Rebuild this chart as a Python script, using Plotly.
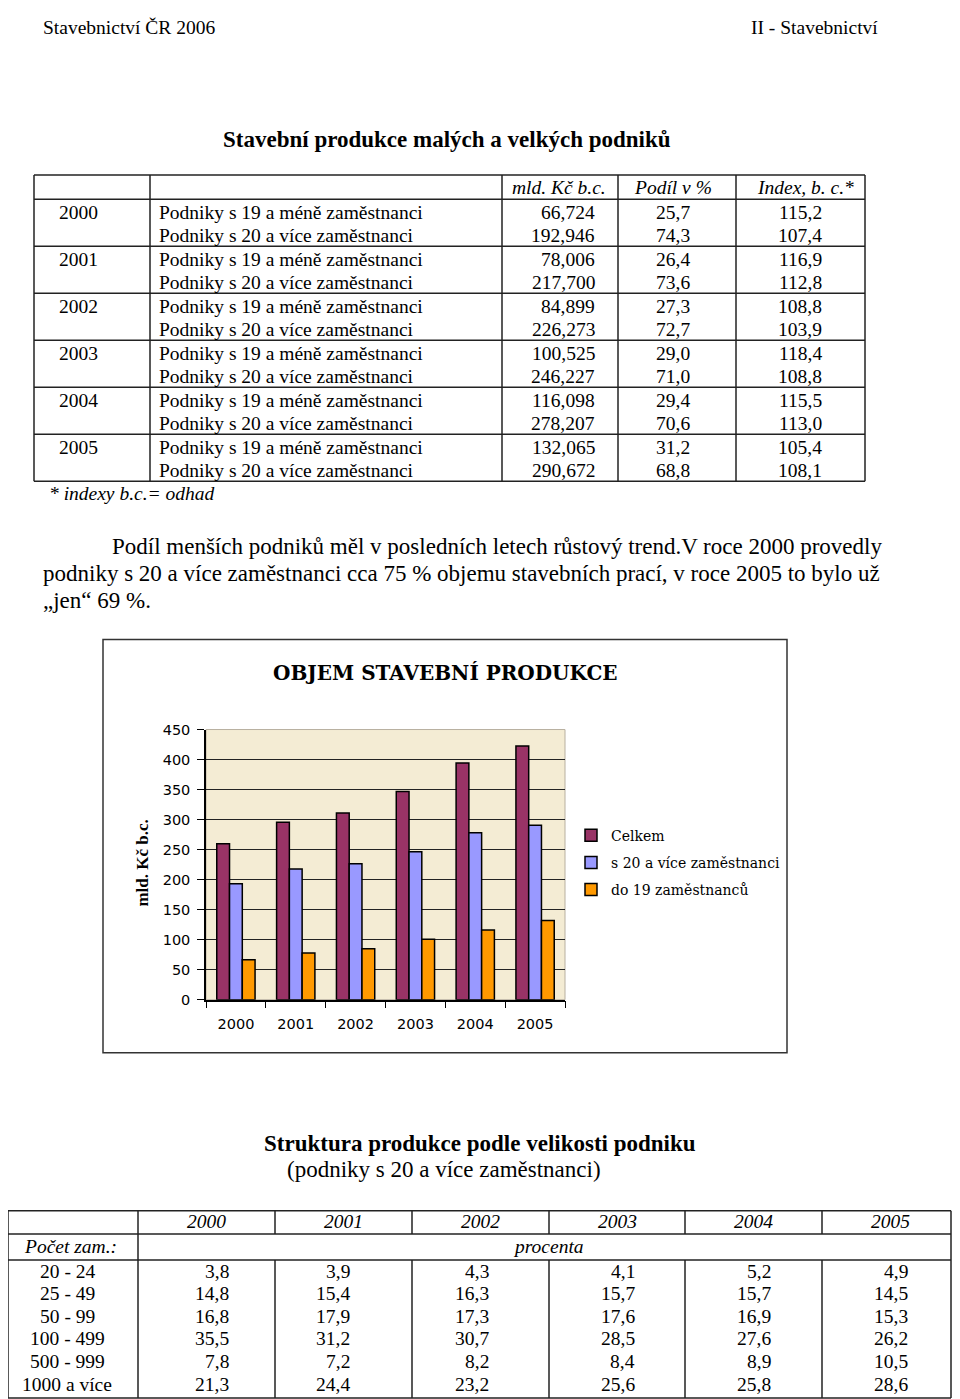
import plotly.graph_objects as go

W, H = 960, 1399
SERIF = "Liberation Serif"

# data - table 1 (mld. Kč b.c., podíl v %, index b.c.)
years = ["2000", "2001", "2002", "2003", "2004", "2005"]
small_mld = [66.724, 78.006, 84.899, 100.525, 116.098, 132.065]
large_mld = [192.946, 217.700, 226.273, 246.227, 278.207, 290.672]
total_mld = [259.670, 295.706, 311.172, 346.752, 394.305, 422.737]
small_share = [25.7, 26.4, 27.3, 29.0, 29.4, 31.2]
large_share = [74.3, 73.6, 72.7, 71.0, 70.6, 68.8]
small_index = [115.2, 116.9, 108.8, 118.4, 115.5, 105.4]
large_index = [107.4, 112.8, 103.9, 108.8, 113.0, 108.1]
row_labels = ["Podniky s 19 a méně zaměstnanci", "Podniky s 20 a více zaměstnanci"]

# data - table 2 (struktura v %)
size_classes = ["20 - 24", "25 - 49", "50 - 99", "100 - 499", "500 - 999", "1000 a více"]
struct_2000 = [3.8, 14.8, 16.8, 35.5, 7.8, 21.3]
struct_2001 = [3.9, 15.4, 17.9, 31.2, 7.2, 24.4]
struct_2002 = [4.3, 16.3, 17.3, 30.7, 8.2, 23.2]
struct_2003 = [4.1, 15.7, 17.6, 28.5, 8.4, 25.6]
struct_2004 = [5.2, 15.7, 16.9, 27.6, 8.9, 25.8]
struct_2005 = [4.9, 14.5, 15.3, 26.2, 10.5, 28.6]
structure = [struct_2000, struct_2001, struct_2002, struct_2003, struct_2004, struct_2005]

# page pixel -> paper coordinates (page offset of the figure)
OX, OY, PH = 8, 16, 1382


def px(x):
    return max(0.0, (x - OX) / W)


def py(y):
    return 1 - (y - OY) / PH


def cz(v, d):
    return f"{v:.{d}f}".replace(".", ",")


annotations = []
shapes = []


def txt(x, y, s, size=19.5, anchor="left", family=SERIF, angle=0):
    annotations.append(dict(x=px(x), y=py(y), xref="paper", yref="paper", text=s,
                            showarrow=False, xanchor=anchor, yanchor="middle",
                            textangle=angle,
                            font=dict(family=family, size=size, color="black")))


def line(x0, y0, x1, y1, w=1.5, color="#222"):
    shapes.append(dict(type="line", xref="paper", yref="paper",
                       x0=px(x0), y0=py(y0), x1=px(x1), y1=py(y1),
                       line=dict(color=color, width=w)))


# page header
txt(41, 27, "Stavebnictví ČR 2006")
txt(880, 27, "II - Stavebnictví", anchor="right")
txt(447, 139, "<b>Stavební produkce malých a velkých podniků</b>", 23, "center")

# table 1 grid
t1_rows = [175, 199, 246, 293, 340, 387, 434, 481]
t1_cols = [34, 150, 502, 618, 736, 865]
for yy in t1_rows:
    line(34, yy, 865, yy)
for xx in t1_cols:
    line(xx, 175, xx, 481)

txt(559, 187, "<i>mld. Kč b.c.</i>", anchor="center")
txt(673, 187, "<i>Podíl v %</i>", anchor="center")
txt(805, 187, "<i>Index, b. c.*</i>", anchor="center")

for i, yr in enumerate(years):
    top = t1_rows[i + 1]
    y1, y2 = top + 13, top + 36
    txt(57, y1, yr)
    txt(157, y1, row_labels[0])
    txt(157, y2, row_labels[1])
    txt(597, y1, cz(small_mld[i], 3), anchor="right")
    txt(597, y2, cz(large_mld[i], 3), anchor="right")
    txt(673, y1, cz(small_share[i], 1), anchor="center")
    txt(673, y2, cz(large_share[i], 1), anchor="center")
    txt(800, y1, cz(small_index[i], 1), anchor="center")
    txt(800, y2, cz(large_index[i], 1), anchor="center")

txt(47, 493, "<i>* indexy b.c.= odhad</i>")

# paragraph
txt(110, 546, "Podíl menších podniků měl v posledních letech růstový trend.V roce 2000 provedly", 23)
txt(41, 573, "podniky s 20 a více zaměstnanci cca 75 % objemu stavebních prací, v roce 2005 to bylo už", 23)
txt(41, 600, "„jen“ 69 %.", 23)

# chart frame and titles
shapes.append(dict(type="rect", xref="paper", yref="paper",
                   x0=px(103), y0=py(1052), x1=px(787), y1=py(639),
                   line=dict(color="#333", width=1.5)))
txt(445, 673, "<b>OBJEM STAVEBNÍ PRODUKCE</b>", 20, "center", "DejaVu Serif")
txt(143, 863, "<b>mld. Kč b.c.</b>", 17, "center", SERIF, -90)

fig = go.Figure()
fig.add_trace(go.Bar(x=years, y=total_mld, name="Celkem",
                     marker=dict(color="#993366", line=dict(color="black", width=1.5))))
fig.add_trace(go.Bar(x=years, y=large_mld, name="s 20 a více zaměstnanci",
                     marker=dict(color="#9999FF", line=dict(color="black", width=1.5))))
fig.add_trace(go.Bar(x=years, y=small_mld, name="do 19 zaměstnanců",
                     marker=dict(color="#FF9900", line=dict(color="black", width=1.5))))
for k, tr in enumerate(fig.data):
    tr.legendgroup = f"g{k}"

# table 2
txt(480, 1143, "<b>Struktura produkce podle velikosti podniku</b>", 23, "center")
txt(444, 1169, "(podniky s 20 a více zaměstnanci)", 23, "center")

t2_cols = [3, 138, 275, 412, 549, 685, 822, 951]
for yy in [1210, 1233, 1259, 1397]:
    line(3, yy, 951, yy)
for xx in [3, 138, 951]:
    line(xx, 1210, xx, 1397)
for xx in t2_cols[2:-1]:
    line(xx, 1210, xx, 1233)
    line(xx, 1259, xx, 1397)

year_centers = [206, 343, 480, 617, 753, 890]
val_right = [231, 352, 491, 637, 773, 910]
row_y = [1271, 1293, 1316, 1338, 1361, 1384]
for j, yr in enumerate(years):
    txt(year_centers[j], 1221, f"<i>{yr}</i>", anchor="center")
txt(70, 1246, "<i>Počet zam.:</i>", anchor="center")
txt(548, 1246, "<i>procenta</i>", anchor="center")
for r, lab in enumerate(size_classes):
    txt(67, row_y[r], lab, anchor="center")
    for j in range(len(years)):
        txt(val_right[j], row_y[r], cz(structure[j][r], 1), anchor="right")

# plot area border (light)
shapes.append(dict(type="rect", xref="paper", yref="paper",
                   x0=px(206), y0=py(999), x1=px(565), y1=py(729),
                   line=dict(color="#b8b0a0", width=1), layer="below"))

fig.update_layout(
    width=W, height=H,
    margin=dict(l=0, r=0, t=0, b=0),
    paper_bgcolor="white",
    plot_bgcolor="#F4ECD4",
    barmode="group",
    bargap=0.36,
    bargroupgap=0,
    showlegend=True,
    legend=dict(x=px(571), y=py(819), xanchor="left", yanchor="top",
                traceorder="grouped", tracegroupgap=6,
                font=dict(family="DejaVu Serif", size=14, color="black"),
                bgcolor="rgba(0,0,0,0)"),
    xaxis=dict(domain=[px(206), px(565)], type="category",
               showline=True, linecolor="black", linewidth=1.5,
               ticks="outside", tickson="boundaries", ticklen=7, tickcolor="black",
               ticklabelstandoff=10,
               tickfont=dict(family="DejaVu Sans", size=14.5, color="black"),
               showgrid=False),
    yaxis=dict(domain=[py(999), py(729)], range=[0, 450], dtick=50,
               showline=True, linecolor="black", linewidth=1.5,
               ticks="outside", ticklen=7, tickcolor="black",
               ticklabelstandoff=4,
               tickfont=dict(family="DejaVu Sans", size=14.5, color="black"),
               showgrid=True, gridcolor="#222", gridwidth=1, zeroline=False),
    annotations=annotations,
    shapes=shapes,
)

fig.write_html("out.html")
